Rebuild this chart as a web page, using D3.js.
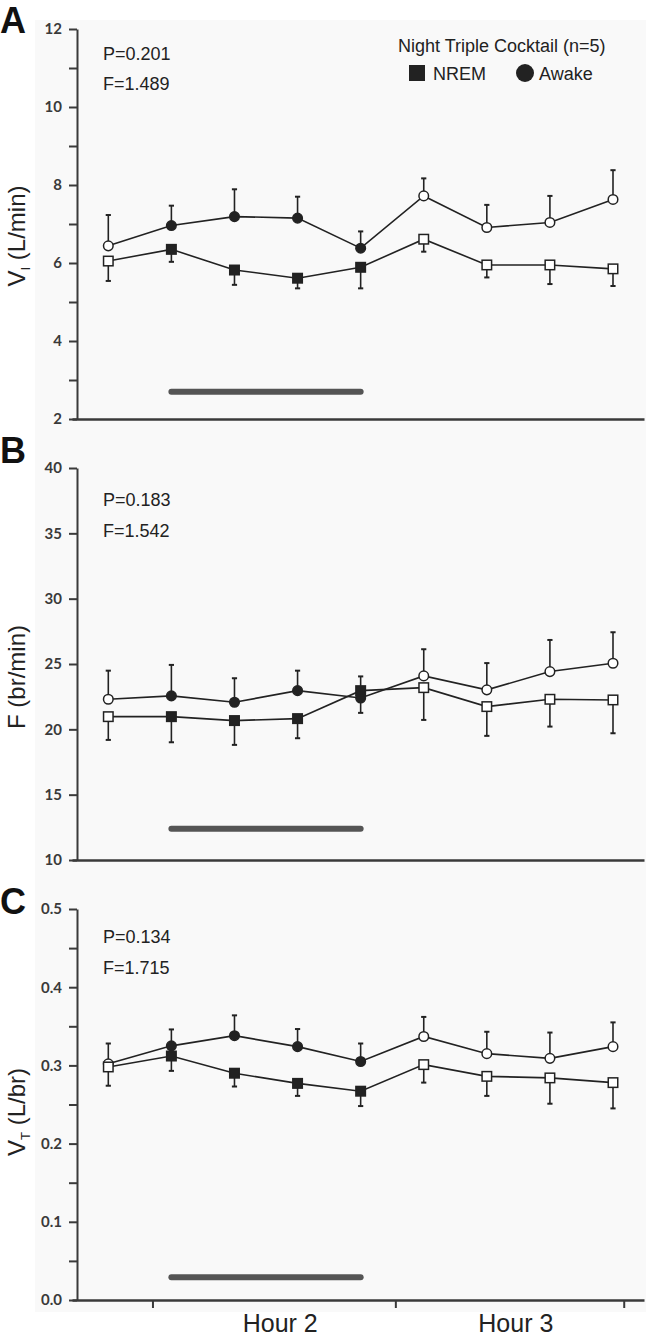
<!DOCTYPE html>
<html>
<head>
<meta charset="utf-8">
<script src="https://cdn.jsdelivr.net/npm/d3@7"></script>
<style>
  html, body { margin: 0; padding: 0; background: #ffffff; }
  svg { display: block; }
</style>
</head>
<body>
<svg id="chart" width="648" height="1340"></svg>
<script>
// ---------------- DATA ----------------
const timepoints = [0, 1, 2, 3, 4, 5, 6, 7, 8];
const drugOn = [false, true, true, true, true, false, false, false, false];
const drugBar = [1, 4];

const hourTicks = [0.7, 4.55, 8.17];
const hourLabels = ["Hour 2", "Hour 3"];

const legendTitle = "Night Triple Cocktail (n=5)";
const seriesNames = ["NREM", "Awake"];

// Panel A: V_I (L/min)
const viAwake   = [6.44, 6.96, 7.19, 7.15, 6.38, 7.72, 6.91, 7.04, 7.63];
const viAwakeSD = [0.79, 0.51, 0.70, 0.55, 0.43, 0.45, 0.58, 0.68, 0.75];
const viNrem    = [6.05, 6.35, 5.82, 5.61, 5.89, 6.61, 5.95, 5.95, 5.85];
const viNremSD  = [0.51, 0.32, 0.38, 0.26, 0.54, 0.32, 0.32, 0.49, 0.44];

// Panel B: F (br/min)
const fAwake   = [22.30, 22.56, 22.07, 22.96, 22.40, 24.09, 23.02, 24.42, 25.06];
const fAwakeSD = [2.19, 2.37, 1.84, 1.53, 1.65, 2.04, 2.05, 2.42, 2.37];
const fNrem    = [20.97, 20.97, 20.67, 20.82, 22.96, 23.19, 21.74, 22.30, 22.25];
const fNremSD  = [1.78, 1.96, 1.86, 1.50, 1.70, 2.47, 2.24, 2.09, 2.55];

// Panel C: V_T (L/br)
const vtAwake   = [0.302, 0.325, 0.338, 0.324, 0.305, 0.337, 0.315, 0.309, 0.324];
const vtAwakeSD = [0.026, 0.021, 0.026, 0.0225, 0.023, 0.025, 0.028, 0.033, 0.031];
const vtNrem    = [0.298, 0.312, 0.290, 0.277, 0.267, 0.301, 0.286, 0.284, 0.278];
const vtNremSD  = [0.024, 0.019, 0.017, 0.016, 0.019, 0.023, 0.025, 0.033, 0.033];

const panelLetters = ["A", "B", "C"];
const pValues = ["P=0.201", "P=0.183", "P=0.134"];
const fValues = ["F=1.489", "F=1.542", "F=1.715"];

// ---------------- LAYOUT ----------------
const svg = d3.select("#chart");
const INK = "#222";
const AXIS = "#3a3a3a";
const tickFont = "Lato, 'Open Sans', 'Liberation Sans', Arial, sans-serif";
const textFont = "'Liberation Sans', Arial, Helvetica, sans-serif";

svg.append("rect").attr("x", 35).attr("y", 20).attr("width", 611).attr("height", 1292)
  .attr("fill", "#f9f9f9");

const xScale = d3.scaleLinear().domain([0, 8]).range([108.3, 613]);
const axisLeftPx = 72, axisRightPx = 644;
const xAxisScale = d3.scaleLinear()
  .domain([xScale.invert(axisLeftPx), xScale.invert(axisRightPx)])
  .range([axisLeftPx, axisRightPx]);
const yAxisX = 77;

const panels = [
  {
    awake: viAwake, awakeSD: viAwakeSD, nrem: viNrem, nremSD: viNremSD,
    domain: [2, 12], range: [419, 29], tickStep: 1, labelEvery: 2, fmt: d3.format("d"),
    barY: 2.7, letterY: 33, pY: 60, fY: 90,
    ylabel: [{t: "V"}, {t: "I", sub: true}, {t: " (L/min)"}], ylabelY: 236, legend: true
  },
  {
    awake: fAwake, awakeSD: fAwakeSD, nrem: fNrem, nremSD: fNremSD,
    domain: [10, 40], range: [860, 468], tickStep: 5, labelEvery: 5, fmt: d3.format("d"),
    barY: 12.4, letterY: 463, pY: 506, fY: 537,
    ylabel: [{t: "F (br/min)"}], ylabelY: 677
  },
  {
    awake: vtAwake, awakeSD: vtAwakeSD, nrem: vtNrem, nremSD: vtNremSD,
    domain: [0, 0.5], range: [1300, 909], tickStep: 0.05, labelEvery: 0.1, fmt: d3.format(".1f"),
    barY: 0.029, letterY: 914, pY: 943, fY: 974,
    ylabel: [{t: "V"}, {t: "T", sub: true}, {t: " (L/br)"}], ylabelY: 1112, hours: true
  }
];

panels.forEach((p, pi) => {
  const g = svg.append("g");
  const y = d3.scaleLinear().domain(p.domain).range(p.range);

  // y axis
  const n = Math.round((p.domain[1] - p.domain[0]) / p.tickStep);
  const tv = d3.range(n + 1).map(k => +(p.domain[0] + k * p.tickStep).toFixed(4));
  const isMajor = v => Math.abs(v / p.labelEvery - Math.round(v / p.labelEvery)) < 1e-6;
  const yAxis = d3.axisLeft(y).tickValues(tv).tickSize(8).tickSizeOuter(0).tickPadding(7)
    .tickFormat(v => isMajor(v) ? p.fmt(v) : "");
  const ya = g.append("g").attr("transform", `translate(${yAxisX},0)`).call(yAxis);
  ya.select(".domain").attr("stroke", AXIS).attr("stroke-width", 2);
  ya.selectAll(".tick line").attr("stroke", AXIS).attr("stroke-width", 2);
  ya.selectAll(".tick text").attr("fill", "#3a3a3a")
    .style("font-family", tickFont).style("font-weight", "bold").style("font-size", "15px");

  // x axis
  const xAxis = d3.axisBottom(xAxisScale)
    .tickValues(p.hours ? hourTicks : []).tickSize(8).tickSizeOuter(0).tickFormat("");
  const xa = g.append("g").attr("transform", `translate(0,${p.range[0]})`).call(xAxis);
  xa.select(".domain").attr("stroke", AXIS).attr("stroke-width", 2.5);
  xa.selectAll(".tick line").attr("stroke", AXIS).attr("stroke-width", 2);

  if (p.hours) {
    hourLabels.forEach((lab, k) => {
      const mid = (hourTicks[k] + hourTicks[k + 1]) / 2 + 0.1;
      g.append("text").attr("x", xScale(mid)).attr("y", 1332)
        .attr("text-anchor", "middle").attr("font-family", textFont)
        .attr("font-size", 25).attr("fill", "#222").text(lab);
    });
  }

  // drug bar
  g.append("line")
    .attr("x1", xScale(drugBar[0])).attr("x2", xScale(drugBar[1]))
    .attr("y1", y(p.barY)).attr("y2", y(p.barY))
    .attr("stroke", "#555").attr("stroke-width", 6).attr("stroke-linecap", "round");

  // error bars
  const capW = 2.6;
  const errs = [];
  timepoints.forEach((t, i) => {
    errs.push({x: t, from: p.awake[i], to: p.awake[i] + p.awakeSD[i]});
    errs.push({x: t, from: p.nrem[i], to: p.nrem[i] - p.nremSD[i]});
  });
  const eg = g.append("g");
  eg.selectAll("line.v").data(errs).join("line")
    .attr("x1", d => xScale(d.x)).attr("x2", d => xScale(d.x))
    .attr("y1", d => y(d.from)).attr("y2", d => y(d.to))
    .attr("stroke", INK).attr("stroke-width", 1.6);
  eg.selectAll("line.c").data(errs).join("line")
    .attr("x1", d => xScale(d.x) - capW).attr("x2", d => xScale(d.x) + capW)
    .attr("y1", d => y(d.to)).attr("y2", d => y(d.to))
    .attr("stroke", INK).attr("stroke-width", 2);

  // lines
  const line = d3.line().x((d, i) => xScale(timepoints[i])).y(d => y(d));
  [p.awake, p.nrem].forEach(arr => {
    g.append("path").attr("d", line(arr)).attr("fill", "none")
      .attr("stroke", INK).attr("stroke-width", 1.6);
  });

  // markers: awake circles then NREM squares
  g.selectAll("circle.m").data(p.awake).join("circle")
    .attr("cx", (d, i) => xScale(timepoints[i])).attr("cy", d => y(d)).attr("r", 4.8)
    .attr("fill", (d, i) => drugOn[i] ? INK : "#fff")
    .attr("stroke", INK).attr("stroke-width", 1.5);
  const sq = 9.5;
  g.selectAll("rect.m").data(p.nrem).join("rect")
    .attr("x", (d, i) => xScale(timepoints[i]) - sq / 2).attr("y", d => y(d) - sq / 2)
    .attr("width", sq).attr("height", sq)
    .attr("fill", (d, i) => drugOn[i] ? INK : "#fff")
    .attr("stroke", INK).attr("stroke-width", 1.5);

  // panel letter
  svg.append("text").attr("x", 0).attr("y", p.letterY)
    .attr("font-family", textFont).attr("font-weight", "bold").attr("font-size", 36)
    .attr("fill", "#111").text(panelLetters[pi]);

  // stats
  svg.append("text").attr("x", 103).attr("y", p.pY).attr("font-family", textFont)
    .attr("font-size", 18).attr("fill", "#222").text(pValues[pi]);
  svg.append("text").attr("x", 103).attr("y", p.fY).attr("font-family", textFont)
    .attr("font-size", 18).attr("fill", "#222").text(fValues[pi]);

  // y label
  const yl = svg.append("text")
    .attr("transform", `translate(25,${p.ylabelY}) rotate(-90)`)
    .attr("text-anchor", "middle").attr("font-family", textFont)
    .attr("font-size", 24).attr("fill", "#222");
  p.ylabel.forEach(s => {
    const ts = yl.append("tspan").text(s.t);
    if (s.sub) ts.attr("font-size", 13).attr("dy", 5);
    else if (s.t.startsWith(" ") && p.ylabel.length > 1) ts.attr("dy", -5);
  });

  // legend
  if (p.legend) {
    svg.append("text").attr("x", 398).attr("y", 52).attr("font-family", textFont)
      .attr("font-size", 18).attr("fill", "#222").text(legendTitle);
    svg.append("rect").attr("x", 409).attr("y", 65).attr("width", 16).attr("height", 16)
      .attr("fill", INK);
    svg.append("text").attr("x", 433).attr("y", 80).attr("font-family", textFont)
      .attr("font-size", 18).attr("fill", "#222").text(seriesNames[0]);
    svg.append("circle").attr("cx", 525).attr("cy", 73).attr("r", 9).attr("fill", INK);
    svg.append("text").attr("x", 539).attr("y", 80).attr("font-family", textFont)
      .attr("font-size", 18).attr("fill", "#222").text(seriesNames[1]);
  }
});
</script>
</body>
</html>
